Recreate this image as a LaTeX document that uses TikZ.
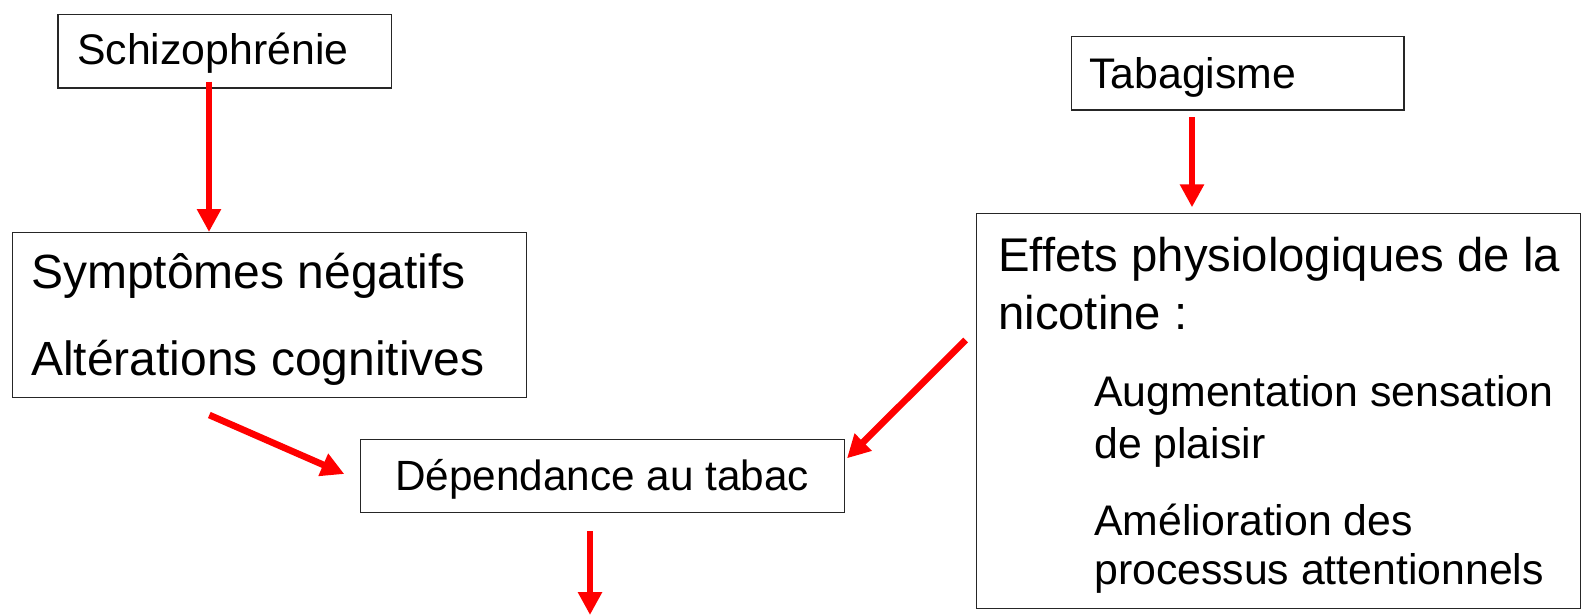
\documentclass[tikz,border=0pt]{standalone}
\usepackage{fontspec}
\setmainfont{Liberation Sans}
\usetikzlibrary{arrows.meta}

\begin{document}
\begin{tikzpicture}[
    x=1pt, y=-1pt,
    box/.style={draw=black!85,line width=1.3pt,inner sep=0pt,anchor=north west},
    txt/.style={inner sep=0pt,anchor=base west},
    big/.style={font=\fontsize{48}{56}\selectfont},
    mid/.style={font=\fontsize{42.8}{50}\selectfont},
    small/.style={font=\fontsize{42.8}{51}\selectfont},
    arrow/.style={draw=red,line width=6.7pt,-{Triangle[length=23pt,width=23pt]}}
]
\useasboundingbox (0,0) rectangle (1583,615);

% Boxes
\node[box,minimum width=333.4pt,minimum height=73.3pt] (schizo) at (57.3,14) {};
\node[box,minimum width=514pt,minimum height=165pt] (sympt) at (12,232) {};
\node[box,minimum width=484pt,minimum height=72.7pt] (depend) at (360,439) {};
\node[box,minimum width=332.3pt,minimum height=73.3pt] (tabac) at (1071,36) {};
\node[box,minimum width=604pt,minimum height=395.1pt] (effets) at (976,212.7) {};

% Left side texts
\node[txt,mid] (tschizo) at (77,65) {Schizophrénie};
\node[txt,big] (tsympt) at (31,288.3) {Symptômes négatifs};
\node[txt,big] (talter) at (31,375) {Altérations cognitives};
\node[font=\fontsize{42.3}{50}\selectfont,inner sep=0pt,anchor=base] (tdepend) at (602,490) {Dépendance au tabac};

% Right side texts
\node[txt,mid] (ttabac) at (1089,88.3) {Tabagisme};
\node[txt,font=\fontsize{47.3}{56}\selectfont] (teffets) at (998,271) {Effets physiologiques de la};
\node[txt,font=\fontsize{47.3}{56}\selectfont] (tnico) at (998,329) {nicotine :};
\node[txt,small] (taugm) at (1094,406) {Augmentation sensation};
\node[txt,small] (tplaisir) at (1094,458) {de plaisir};
\node[txt,small] (tamel) at (1094,535) {Amélioration des};
\node[txt,small] (tproc) at (1094,584.5) {processus attentionnels};

% Arrow ends
\coordinate (a1) at (209,81.7);
\coordinate (a2) at (1192,117.3);
\coordinate (d1) at (209.3,415);
\coordinate (d2) at (965.7,340);
\coordinate (b1) at (590,531);
\coordinate (b2) at (590,615);

% Arrows
\draw[arrow] (a1) -- (a1 |- sympt.north);
\draw[arrow] (a2) -- ([yshift=5.4pt]a2 |- effets.north);
\draw[arrow] (d1) -- ([xshift=-15.7pt,yshift=2pt]depend.west);
\draw[arrow] (d2) -- ([shift={(1.7pt,-19.3pt)}]depend.north east);
\draw[arrow] (b1) -- (b2);

\end{tikzpicture}
\end{document}
